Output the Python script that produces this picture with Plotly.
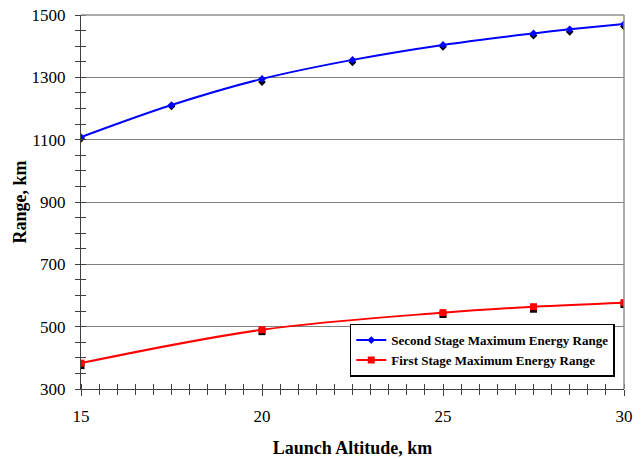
import plotly.graph_objects as go

# Launch altitude (km) and resulting range (km)
alt_second = [15, 17.5, 20, 22.5, 25, 27.5, 28.5, 30]
range_second_fit = [1108, 1211, 1295, 1356, 1404, 1441, 1454, 1471]
range_second_pts = [1103, 1207, 1285, 1348, 1398, 1434, 1446, 1463]

alt_first = [15, 20, 25, 27.5, 30]
range_first_fit = [383, 490, 545, 564, 577]
range_first_pts = [375, 484, 539, 556, 571]

x_ticks = [15, 20, 25, 30]
y_ticks = [300, 500, 700, 900, 1100, 1300, 1500]

serif = "Liberation Serif"

fig = go.Figure()

# computed points (black)
fig.add_trace(go.Scatter(x=alt_second, y=range_second_pts, mode="markers",
                         marker=dict(symbol="diamond", size=6, color="black"),
                         showlegend=False, hoverinfo="skip"))
fig.add_trace(go.Scatter(x=alt_first, y=range_first_pts, mode="markers",
                         marker=dict(symbol="square", size=7, color="black"),
                         showlegend=False, hoverinfo="skip"))

# smoothed curves
fig.add_trace(go.Scatter(x=alt_second, y=range_second_fit, mode="lines+markers",
                         line=dict(color="#0000ff", width=2, shape="spline"),
                         marker=dict(symbol="diamond", size=6, color="#0000ff"),
                         name="<b>Second Stage Maximum Energy Range</b>"))
fig.add_trace(go.Scatter(x=alt_first, y=range_first_fit, mode="lines+markers",
                         line=dict(color="#ff0000", width=2, shape="spline"),
                         marker=dict(symbol="square", size=7, color="#ff0000"),
                         name="<b>First Stage Maximum Energy Range</b>"))

# invisible trace to carry the inward half of the crossing ticks
fig.add_trace(go.Scatter(x=[15], y=[300], xaxis="x2", yaxis="y2", mode="markers",
                         marker=dict(opacity=0), showlegend=False, hoverinfo="skip"))

fig.update_layout(
    width=642, height=459,
    margin=dict(l=81, r=18, t=15, b=70, autoexpand=False),
    paper_bgcolor="white", plot_bgcolor="white",
    font=dict(family=serif, color="black"),
    xaxis=dict(range=[15, 30], tickvals=x_ticks, ticks="outside", ticklen=6,
               tickcolor="#404040", showline=True, linecolor="#404040", linewidth=1,
               showgrid=False, zeroline=False, automargin=False,
               minor=dict(dtick=0.5, tick0=15, ticks="outside", ticklen=5, tickcolor="#404040"),
               tickfont=dict(size=17, family=serif), ticklabelstandoff=6,
               title=dict(text="<b>Launch Altitude, km</b>", font=dict(size=18, family=serif), standoff=15)),
    yaxis=dict(range=[300, 1500], tickvals=y_ticks, ticks="outside", ticklen=5,
               tickcolor="#404040", showline=True, linecolor="#404040", linewidth=1,
               showgrid=True, gridcolor="#808080", gridwidth=1, zeroline=False, automargin=False,
               minor=dict(dtick=50, tick0=300, ticks="outside", ticklen=5, tickcolor="#404040"),
               tickfont=dict(size=17, family=serif), ticklabelstandoff=6,
               title=dict(text="<b>Range, km</b>", font=dict(size=18, family=serif), standoff=0)),
    xaxis2=dict(range=[15, 30], overlaying="x", anchor="y2", side="bottom",
                showticklabels=False, showgrid=False, zeroline=False, showline=False,
                tickvals=x_ticks, ticks="", automargin=False,
                minor=dict(dtick=0.5, tick0=15, ticks="inside", ticklen=5, tickcolor="#404040")),
    yaxis2=dict(range=[300, 1500], overlaying="y", anchor="x2", side="left",
                showticklabels=False, showgrid=False, zeroline=False, showline=False,
                tickvals=y_ticks, ticks="", automargin=False,
                minor=dict(dtick=50, tick0=300, ticks="inside", ticklen=5, tickcolor="#404040")),
    legend=dict(x=0.983, y=0.033, xanchor="right", yanchor="bottom",
                bgcolor="white", bordercolor="black", borderwidth=1.5,
                font=dict(size=13, family=serif, color="black"),
                itemwidth=30, tracegroupgap=0),
    shapes=[
        dict(type="line", xref="paper", yref="paper", x0=0, x1=1, y0=1, y1=1,
             line=dict(color="#909090", width=1.5)),
        dict(type="line", xref="paper", yref="paper", x0=1, x1=1, y0=0, y1=1,
             line=dict(color="#909090", width=1.5)),
    ],
)

fig.write_html("out.html")
